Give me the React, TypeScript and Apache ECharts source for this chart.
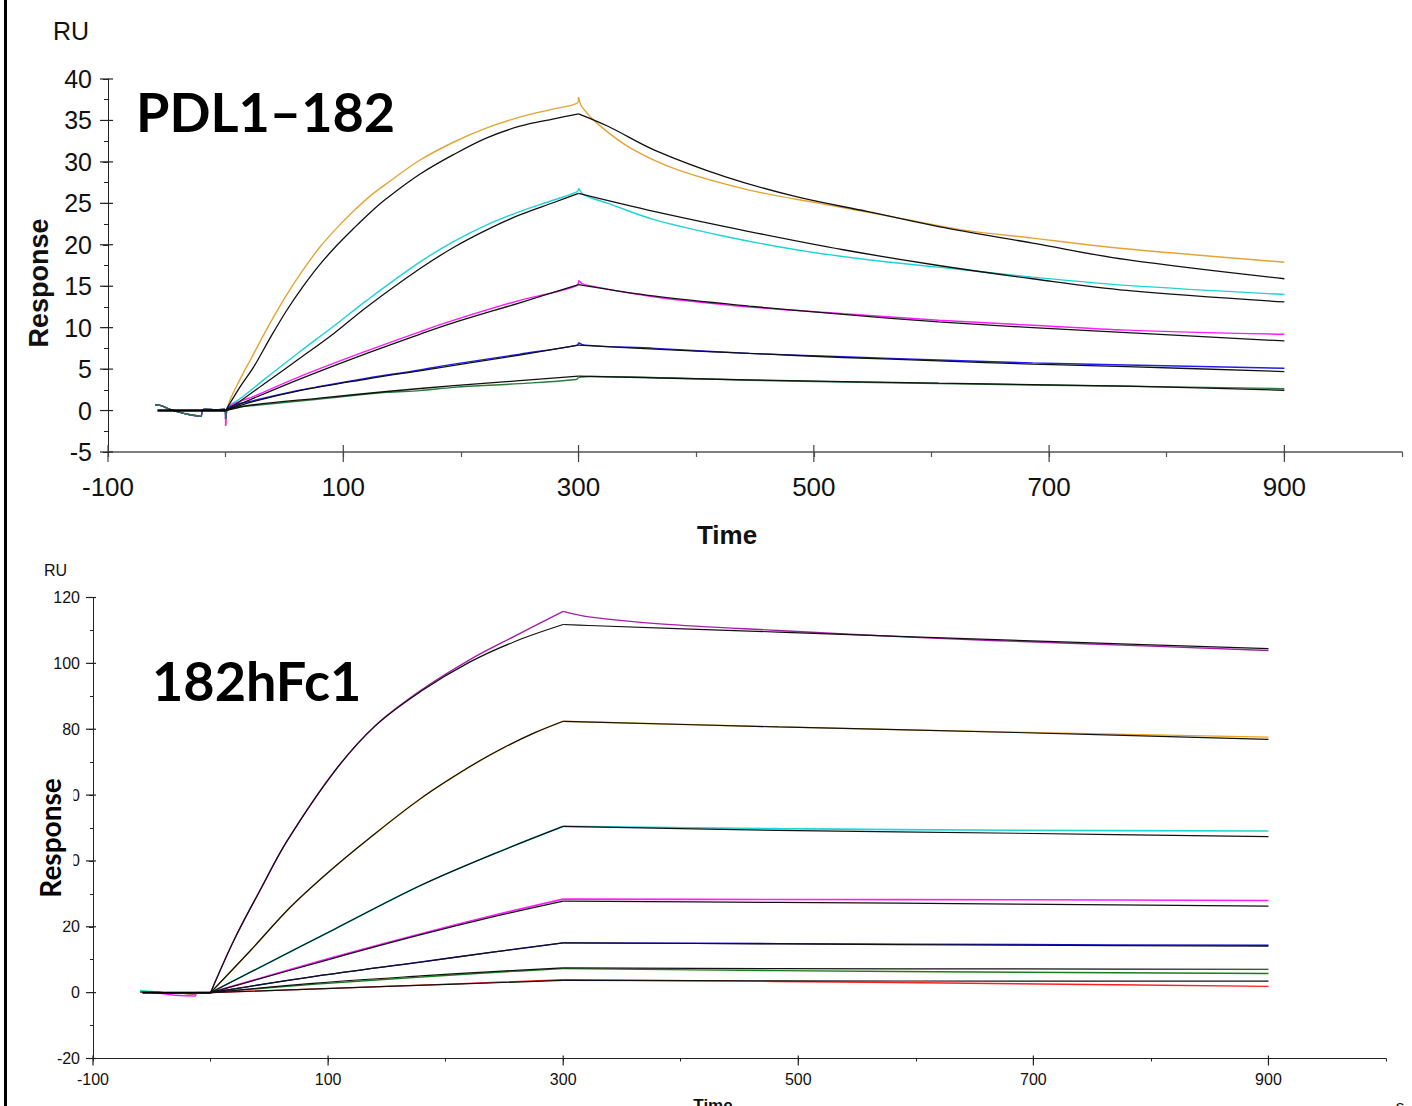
import React, { useEffect, useRef } from "react";
import * as echarts from "echarts";

// ---------- axis ticks ----------
const X_MIN = -100;
const X_MAX = 1000;
const MAJOR_X = [-100, 100, 300, 500, 700, 900];
const TOP_Y_MIN = -5;
const TOP_Y_MAX = 40;
const TOP_MAJOR_Y = [-5, 0, 5, 10, 15, 20, 25, 30, 35, 40];
const BOT_Y_MIN = -20;
const BOT_Y_MAX = 120;
const BOT_MAJOR_Y = [-20, 0, 20, 40, 60, 80, 100, 120];
// phase boundaries (s): injection start / end
const PHASES = [0, 300];

// ---------- PDL1-182 (top) ----------
const TOP_BASELINE = [[-60, 0.7], [-55, 0.6], [-50, 0.3], [-42, -0.1], [-34, -0.4], [-26, -0.6], [-21, -0.7], [-20, -0.1], [-18, 0.15], [-8, 0.1], [-1, 0.15]];
const TOP_FIT_BASELINE = [[-58, 0], [0, 0]];

const TOP_ORANGE = [[0, -1.8], [2, 0.6], [12, 3.7], [24, 6.9], [38, 10.6], [52, 14.0], [66, 17.0], [80, 19.7], [95, 22.1], [109, 24.1], [123, 25.9], [137, 27.4], [165, 30.2], [194, 32.4], [222, 34.1], [250, 35.4], [279, 36.4], [299, 37.1], [300, 37.8], [303, 36.6], [317, 34.5], [345, 31.6], [385, 29.0], [445, 26.6], [505, 25.0], [566, 23.4], [626, 21.8], [686, 20.8], [746, 19.8], [806, 19.0], [900, 17.9]];
const TOP_ORANGE_FIT = [[0, 0], [12, 2.8], [24, 5.3], [38, 8.8], [52, 12.1], [66, 15.0], [80, 17.6], [95, 20.0], [109, 22.0], [123, 23.9], [137, 25.6], [165, 28.5], [194, 30.9], [222, 32.9], [250, 34.3], [279, 35.2], [300, 35.8], [325, 34.3], [365, 31.4], [425, 28.2], [485, 25.8], [546, 24.0], [606, 22.2], [686, 20.2], [766, 18.2], [900, 15.9]];

const TOP_CYAN = [[0, -1.0], [2, 0.4], [12, 1.4], [35, 4.0], [63, 7.1], [92, 10.2], [120, 13.3], [165, 17.9], [194, 20.4], [222, 22.4], [250, 24.0], [279, 25.4], [299, 26.4], [300, 26.8], [305, 26.0], [325, 25.0], [365, 23.0], [425, 21.0], [485, 19.4], [546, 18.2], [606, 17.3], [686, 16.1], [766, 15.1], [900, 14.0]];
const TOP_CYAN_FIT = [[0, 0], [12, 1.1], [35, 3.45], [63, 6.3], [92, 9.3], [120, 12.5], [165, 17.1], [194, 19.7], [222, 21.8], [250, 23.6], [279, 25.1], [300, 26.2], [365, 24.0], [445, 21.6], [525, 19.4], [606, 17.5], [686, 15.9], [766, 14.5], [900, 13.1]];

const TOP_MAGENTA = [[0, -1.8], [2, 0.3], [24, 1.7], [63, 4.1], [120, 7.2], [165, 9.5], [194, 10.9], [250, 13.3], [299, 15.1], [300, 15.7], [305, 15.2], [365, 13.7], [445, 12.5], [525, 11.7], [606, 10.9], [686, 10.3], [766, 9.7], [900, 9.2]];
const TOP_MAGENTA_FIT = [[0, 0], [24, 1.5], [63, 3.8], [120, 6.9], [165, 9.2], [194, 10.6], [250, 13.0], [300, 15.2], [365, 13.8], [445, 12.6], [525, 11.6], [606, 10.7], [686, 10.0], [766, 9.4], [900, 8.4]];

const TOP_BLUE = [[0, -1.0], [2, 0.3], [24, 1.2], [63, 2.45], [80, 2.9], [120, 3.9], [165, 4.9], [194, 5.6], [250, 6.8], [299, 7.9], [300, 8.2], [305, 7.9], [365, 7.5], [445, 6.9], [525, 6.5], [606, 6.1], [686, 5.75], [766, 5.5], [900, 5.1]];
const TOP_BLUE_FIT = [[0, 0], [24, 1.1], [63, 2.4], [120, 3.8], [165, 4.8], [250, 6.7], [300, 7.9], [365, 7.4], [445, 6.9], [525, 6.4], [606, 6.0], [686, 5.6], [766, 5.3], [900, 4.7]];

const TOP_GREEN = [[0, -1.0], [2, 0.2], [24, 0.6], [80, 1.4], [137, 2.2], [165, 2.4], [194, 2.8], [250, 3.25], [298, 3.75], [300, 4.0], [310, 4.1], [445, 3.66], [606, 3.26], [766, 2.93], [900, 2.65]];
const TOP_GREEN_FIT = [[0, 0], [24, 0.7], [80, 1.5], [137, 2.3], [194, 3.0], [250, 3.6], [300, 4.15], [445, 3.7], [606, 3.3], [766, 2.95], [900, 2.45]];

// ---------- 182hFc1 (bottom) ----------
const BOT_BASELINE = [[-60, 0.3], [-50, 0.1], [-40, 0], [-25, -0.2], [-13, -0.3], [-12, 0]];
const BOT_MAGENTA_BASELINE = [[-60, 0.2], [-40, -0.3], [-30, -0.8], [-13, -1.0], [-12, 0]];
const BOT_CYAN_BASELINE = [[-60, 0.6], [-50, 0.3], [-40, 0], [-12, 0]];
const BOT_FIT_BASELINE = [[-58, 0], [0, 0]];

const BOT_PURPLE = [[0, 0], [20, 16], [42, 31], [65, 46], [105, 67], [140, 81], [179, 91.8], [220, 101], [260, 108.5], [300, 115.8], [322, 114.1], [382, 112.0], [483, 110.0], [604, 107.8], [725, 106.2], [900, 103.9]];
const BOT_PURPLE_FIT = [[0, 0], [20, 16], [42, 31], [65, 46], [105, 67], [140, 81], [179, 91.5], [220, 100.3], [260, 106.8], [300, 111.8], [322, 111.5], [483, 109.5], [725, 106.5], [900, 104.5]];

const BOT_ORANGE = [[0, 0], [34, 12.8], [68, 26], [100, 36.5], [133, 46.3], [179, 59], [220, 68.5], [250, 74.5], [275, 78.8], [300, 82.4], [483, 80.7], [685, 79.1], [900, 77.6]];
const BOT_ORANGE_FIT = [[0, 0], [34, 12.8], [68, 26], [100, 36.5], [133, 46.3], [179, 59], [220, 68.5], [250, 74.5], [275, 78.8], [300, 82.4], [483, 80.7], [685, 79.0], [900, 76.9]];

const BOT_CYAN = [[0, 0], [48, 8.8], [105, 19.2], [179, 32.6], [240, 42.0], [300, 50.5], [483, 49.8], [685, 49.3], [900, 49.1]];
const BOT_CYAN_FIT = [[0, 0], [48, 8.8], [105, 19.2], [179, 32.6], [240, 42.0], [300, 50.5], [483, 49.3], [685, 48.4], [900, 47.4]];

const BOT_MAGENTA = [[0, 0], [105, 10.8], [179, 17.9], [240, 23.4], [300, 28.4], [483, 28.3], [685, 28.2], [900, 28.0]];
const BOT_MAGENTA_FIT = [[0, 0], [105, 10.5], [179, 17.6], [240, 23.0], [300, 27.8], [483, 27.4], [685, 26.9], [900, 26.3]];

const BOT_BLUE = [[0, 0], [90, 5.0], [179, 9.3], [240, 12.3], [300, 15.1], [483, 14.9], [685, 14.6], [900, 14.4]];
const BOT_BLUE_FIT = [[0, 0], [90, 5.0], [179, 9.3], [240, 12.3], [300, 15.1], [483, 14.8], [685, 14.4], [900, 14.1]];

const BOT_GREEN = [[0, 0], [90, 2.6], [179, 4.7], [240, 6.1], [300, 7.3], [483, 6.7], [685, 6.2], [900, 5.8]];
const BOT_GREEN_FIT = [[0, 0], [90, 2.9], [179, 5.1], [240, 6.4], [300, 7.5], [483, 7.3], [685, 7.2], [900, 7.1]];

const BOT_RED = [[0, 0], [150, 1.9], [300, 3.9], [483, 3.4], [685, 2.7], [900, 1.9]];
const BOT_RED_FIT = [[0, 0], [150, 1.9], [300, 3.7], [483, 3.6], [685, 3.5], [900, 3.5]];

const SANS = "'Liberation Sans', Arial, sans-serif";
const TITLE_FONT = "Lato, 'Open Sans', sans-serif";

function line(data: number[][], color: string, width: number, grid: number, z: number) {
  return {
    type: "line",
    xAxisIndex: grid,
    yAxisIndex: grid,
    data,
    symbol: "none",
    smooth: 0.35,
    silent: true,
    z,
    lineStyle: { color, width },
  };
}

// one sensorgram split into baseline / association / dissociation pieces,
// so that the corners at injection start and end stay sharp
function curve(data: number[][], color: string, width: number, grid: number, z: number) {
  const [t0, t1] = PHASES;
  const parts = [
    data.filter((p) => p[0] <= t0),
    data.filter((p) => p[0] >= t0 && p[0] <= t1),
    data.filter((p) => p[0] >= t1),
  ];
  // join pieces so they connect
  if (parts[0].length && parts[1].length && parts[0][parts[0].length - 1][0] !== parts[1][0][0]) {
    parts[0] = parts[0].concat([parts[1][0]]);
  }
  return parts.filter((d) => d.length > 1).map((d) => line(d, color, width, grid, z));
}

function majorTicks(grid: number, data: number[][], dir: "x" | "y", a: number, b: number, color: string) {
  return {
    type: "custom",
    xAxisIndex: grid,
    yAxisIndex: grid,
    silent: true,
    z: 6,
    data,
    renderItem: (_p: any, api: any) => {
      const p = api.coord([api.value(0), api.value(1)]);
      const shape =
        dir === "x"
          ? { x1: p[0], y1: p[1] + a, x2: p[0], y2: p[1] + b }
          : { x1: p[0] + a, y1: p[1], x2: p[0] + b, y2: p[1] };
      return { type: "line", shape, style: { stroke: color, lineWidth: 1.2 } };
    },
  };
}

const xLabel = (v: number) => (MAJOR_X.includes(v) ? String(v) : "");

export default function App() {
  const ref = useRef<HTMLDivElement>(null);
  useEffect(() => {
    const chart = echarts.init(ref.current!, null, { renderer: "svg" });
    const option: any = {
      animation: false,
      backgroundColor: "#ffffff",
      grid: [
        { left: 108, top: 79, width: 1294, height: 373 },
        { left: 93, top: 597.5, width: 1293, height: 461 },
      ],
      xAxis: [
        {
          gridIndex: 0, type: "value", min: X_MIN, max: X_MAX, interval: 100,
          axisLine: { onZero: false, lineStyle: { color: "#555", width: 1.5 } },
          axisTick: { length: 5, lineStyle: { color: "#555", width: 1.2 } },
          splitLine: { show: false },
          axisLabel: { formatter: xLabel, fontSize: 26, fontFamily: SANS, color: "#111", margin: 22 },
        },
        {
          gridIndex: 1, type: "value", min: X_MIN, max: X_MAX, interval: 100,
          axisLine: { onZero: false, lineStyle: { color: "#222", width: 1 } },
          axisTick: { length: 3, lineStyle: { color: "#222" } },
          splitLine: { show: false },
          axisLabel: { formatter: xLabel, fontSize: 16, fontFamily: SANS, color: "#111", margin: 13 },
        },
      ],
      yAxis: [
        {
          gridIndex: 0, type: "value", min: TOP_Y_MIN, max: TOP_Y_MAX, interval: 5,
          axisLine: { show: true, onZero: false, lineStyle: { color: "#222", width: 1 } },
          axisTick: { show: true, length: 5, lineStyle: { color: "#222" } },
          minorTick: { show: true, splitNumber: 2, length: 4, lineStyle: { color: "#222" } },
          splitLine: { show: false },
          axisLabel: { fontSize: 25, fontFamily: SANS, color: "#111", margin: 16 },
        },
        {
          gridIndex: 1, type: "value", min: BOT_Y_MIN, max: BOT_Y_MAX, interval: 20,
          axisLine: { show: true, onZero: false, lineStyle: { color: "#222", width: 1 } },
          axisTick: { show: true, length: 4, lineStyle: { color: "#222" } },
          minorTick: { show: true, splitNumber: 2, length: 3, lineStyle: { color: "#222" } },
          splitLine: { show: false },
          axisLabel: { fontSize: 16, fontFamily: SANS, color: "#111", margin: 13 },
        },
      ],
      series: [
        majorTicks(0, MAJOR_X.map((v) => [v, TOP_Y_MIN]), "x", -7, 10, "#444"),
        majorTicks(0, TOP_MAJOR_Y.map((v) => [X_MIN, v]), "y", -8, 5, "#222"),
        majorTicks(1, MAJOR_X.map((v) => [v, BOT_Y_MIN]), "x", -3, 7, "#222"),
        majorTicks(1, BOT_MAJOR_Y.map((v) => [X_MIN, v]), "y", -7, 3, "#222"),

        ...curve(TOP_BASELINE.concat(TOP_ORANGE), "#E3A437", 1.4, 0, 2),
        ...curve(TOP_BASELINE.concat(TOP_CYAN), "#1ED3D6", 1.4, 0, 2),
        ...curve(TOP_BASELINE.concat(TOP_MAGENTA), "#FF1CFF", 1.4, 0, 2),
        ...curve(TOP_BASELINE.concat(TOP_BLUE), "#1E1EF0", 1.4, 0, 2),
        ...curve(TOP_BASELINE.concat(TOP_GREEN), "#2A7A3A", 1.4, 0, 2),
        line(TOP_FIT_BASELINE, "#000", 2.4, 0, 3),
        ...curve(TOP_ORANGE_FIT, "#111", 1.3, 0, 3),
        ...curve(TOP_CYAN_FIT, "#111", 1.3, 0, 3),
        ...curve(TOP_MAGENTA_FIT, "#111", 1.3, 0, 3),
        ...curve(TOP_BLUE_FIT, "#111", 1.3, 0, 3),
        ...curve(TOP_GREEN_FIT, "#111", 1.3, 0, 3),

        ...curve(BOT_BASELINE.concat(BOT_PURPLE), "#A31FA8", 1.4, 1, 2),
        ...curve(BOT_BASELINE.concat(BOT_ORANGE), "#E8A420", 1.4, 1, 2),
        ...curve(BOT_CYAN_BASELINE.concat(BOT_CYAN), "#1ED8D8", 1.6, 1, 2),
        ...curve(BOT_MAGENTA_BASELINE.concat(BOT_MAGENTA), "#FF1CFF", 1.6, 1, 2),
        ...curve(BOT_BASELINE.concat(BOT_BLUE), "#1414C8", 1.4, 1, 2),
        ...curve(BOT_BASELINE.concat(BOT_GREEN), "#1F7A1F", 1.4, 1, 2),
        ...curve(BOT_BASELINE.concat(BOT_RED), "#FF2020", 1.4, 1, 2),
        line(BOT_FIT_BASELINE, "#000", 2, 1, 3),
        ...curve(BOT_PURPLE_FIT, "#111", 1.2, 1, 3),
        ...curve(BOT_ORANGE_FIT, "#111", 1.2, 1, 3),
        ...curve(BOT_CYAN_FIT, "#111", 1.2, 1, 3),
        ...curve(BOT_MAGENTA_FIT, "#111", 1.2, 1, 3),
        ...curve(BOT_BLUE_FIT, "#111", 1.2, 1, 3),
        ...curve(BOT_GREEN_FIT, "#111", 1.2, 1, 3),
        ...curve(BOT_RED_FIT, "#111", 1.2, 1, 3),
      ],
      graphic: [
        { type: "rect", z: 100, shape: { x: 4, y: 0, width: 3, height: 1106 }, style: { fill: "#000" } },
        { type: "text", z: 100, x: 53, y: 31, style: { text: "RU", fontSize: 25, fontFamily: SANS, fill: "#111", align: "left", verticalAlign: "middle" } },
        { type: "text", z: 100, x: 39, y: 283, rotation: Math.PI / 2, style: { text: "Response", fontSize: 27, fontWeight: "bold", fontFamily: SANS, fill: "#111", align: "center", verticalAlign: "middle" } },
        { type: "text", z: 100, x: 727, y: 535, style: { text: "Time", fontSize: 26, fontWeight: "bold", fontFamily: SANS, fill: "#111", align: "center", verticalAlign: "middle" } },
        { type: "text", z: 100, x: 136, y: 111, style: { text: "PDL1–182", fontSize: 54, fontWeight: "bold", fontFamily: TITLE_FONT, fill: "#000", align: "left", verticalAlign: "middle" } },
        { type: "text", z: 100, x: 44, y: 570.5, style: { text: "RU", fontSize: 16, fontFamily: SANS, fill: "#111", align: "left", verticalAlign: "middle" } },
        { type: "text", z: 100, x: 50, y: 843, rotation: Math.PI / 2, style: { text: "Response", fontSize: 28, fontWeight: "bold", fontFamily: TITLE_FONT, fill: "#000", align: "center", verticalAlign: "middle", backgroundColor: "#ffffff", padding: [6, 13, 13, 23] } },
        { type: "text", z: 100, x: 713, y: 1097, style: { text: "Time", fontSize: 17, fontWeight: "bold", fontFamily: SANS, fill: "#111", align: "center", verticalAlign: "top" } },
        { type: "text", z: 100, x: 1400, y: 1098, style: { text: "s", fontSize: 17, fontFamily: SANS, fill: "#111", align: "center", verticalAlign: "top" } },
        { type: "text", z: 100, x: 152, y: 680, style: { text: "182hFc1", fontSize: 54, fontWeight: "bold", fontFamily: TITLE_FONT, fill: "#000", align: "left", verticalAlign: "middle" } },
      ],
    };
    chart.setOption(option);
    return () => chart.dispose();
  }, []);
  return (
    <div
      ref={ref}
      style={{ position: "fixed", left: 0, top: 0, width: 1412, height: 1106, background: "#fff" }}
    />
  );
}
